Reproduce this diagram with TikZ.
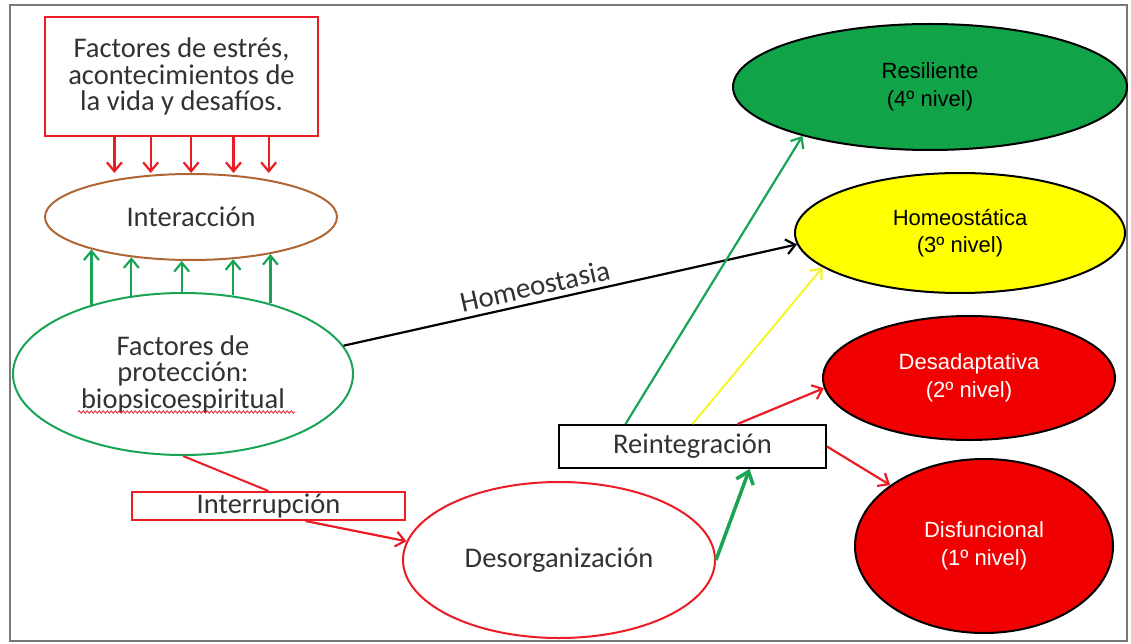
\documentclass[tikz,border=0pt]{standalone}
\usepackage{fontspec}
\setmainfont{Carlito}
\newfontfamily\arialf{Liberation Sans}
\usetikzlibrary{arrows.meta,calc,shapes.geometric,decorations.pathmorphing}
\definecolor{lred}{RGB}{236,28,36}
\definecolor{lgreen}{RGB}{24,164,84}
\definecolor{lbrown}{RGB}{176,102,52}
\definecolor{txtgray}{RGB}{50,50,50}
\definecolor{fgreen}{RGB}{16,163,72}
\definecolor{fyellow}{RGB}{255,255,0}
\definecolor{fred}{RGB}{240,0,0}
\definecolor{lyellow}{RGB}{245,245,40}
\definecolor{framegray}{RGB}{120,120,120}
\tikzset{
  lefttext/.style={text=txtgray, font=\fontsize{28.5}{26.5}\selectfont, align=center},
  righttext/.style={font=\arialf\fontsize{22}{27.5}\selectfont, align=center},
  rbox/.style={draw=lred, line width=2pt, rectangle, inner sep=0pt, lefttext},
  kbox/.style={draw=black, line width=2pt, rectangle, inner sep=0pt, lefttext},
  ell/.style={ellipse, inner sep=0pt, line width=2pt},
  barb/.style={-{Straight Barb[length=9pt,width=15pt,line width=2.2pt]}},
  redarrow/.style={barb, draw=lred, line width=2.2pt},
  greenarrow/.style={barb, draw=lgreen, line width=2.2pt},
  outcome/.style={ell, draw=black, righttext},
}
\begin{document}
\begin{tikzpicture}[x=1pt,y=-1pt]
\useasboundingbox (0,0) rectangle (1131,644);
\draw[framegray, line width=1.5pt] (10,5) rectangle (1127,641);

% nodes
\node[rbox, minimum width=273pt, minimum height=119pt] (stress) at (181.5,76.5)
  {Factores de estrés,\\acontecimientos de\\la vida y desafíos.};
\node[ell, draw=lbrown, lefttext, minimum width=292pt, minimum height=86pt] (inter) at (191,217) {Interacción};
\node[ell, draw=lgreen, lefttext, minimum width=340pt, minimum height=162pt] (prot) at (183,374)
  {Factores de\\protección:\\biopsicoespiritual};
\node[rbox, minimum width=273pt, minimum height=28pt] (interr) at (268.5,506) {Interrupción};
\node[ell, draw=lred, lefttext, minimum width=312pt, minimum height=156pt] (desorg) at (559,560) {Desorganización};
\node[kbox, minimum width=267pt, minimum height=43pt] (reint) at (692.5,446.5) {Reintegración};

\node[outcome, fill=fgreen, minimum width=394pt, minimum height=126pt] (resil) at (930,87) {Resiliente\\(4º nivel)};
\node[outcome, fill=fyellow, minimum width=330pt, minimum height=120pt] (homeo) at (960,233) {Homeostática\\(3º nivel)};
\node[outcome, fill=fred, text=white, minimum width=292pt, minimum height=124pt] (desad) at (969,378) {Desadaptativa\\(2º nivel)};
\node[outcome, fill=fred, text=white, minimum width=258pt, minimum height=174pt] (disf) at (984,546) {Disfuncional\\(1º nivel)};

% spell-check squiggle
\draw[lred, line width=0.8pt, decorate, decoration={snake, amplitude=1.2pt, segment length=4pt}]
  ($(prot.center)+(-105,38)$) -- ($(prot.center)+(112,38)$);

% stress arrows
\foreach \f/\i in {0.256/a,0.388/b,0.535/c,0.689/d,0.817/e}{
  \coordinate (s\i) at ($(stress.south west)!\f!(stress.south east)$);
  \draw[redarrow] (s\i) -- (s\i |- inter.north);
}
% protection arrows
\foreach \a/\b in {198/143,214/123,258/90,315/58,335/40}{
  \draw[greenarrow] (inter.\a |- prot.\b) -- (inter.\a);
}

% homeostasia
\draw[barb, draw=black, line width=2.2pt] (prot.10) -- node[pos=0.43, sloped, above=2pt, text=txtgray, font=\fontsize{29}{30}\selectfont]{Homeostasia} (homeo.184);

% interruption
\draw[lred, line width=2pt] (prot.south) -- (interr.north);
\draw[redarrow] ($(interr.south)+(37,0)$) -- (desorg.173);

% desorganización -> reintegración
\draw[-{Straight Barb[length=11pt,width=18pt,line width=3.5pt]}, draw=lgreen, line width=3.5pt] (desorg.east) -- ($(reint.south)+(57,0)$);

% reintegración -> outcomes
\draw[greenarrow] ($(reint.north)+(-67,0)$) -- (resil.201);
\draw[barb, draw=lyellow, line width=2pt] (reint.north) -- (homeo.194);
\draw[redarrow] ($(reint.north)+(45,0)$) -- (desad.184);
\draw[redarrow] (reint.east) -- (disf.147);
\end{tikzpicture}
\end{document}
